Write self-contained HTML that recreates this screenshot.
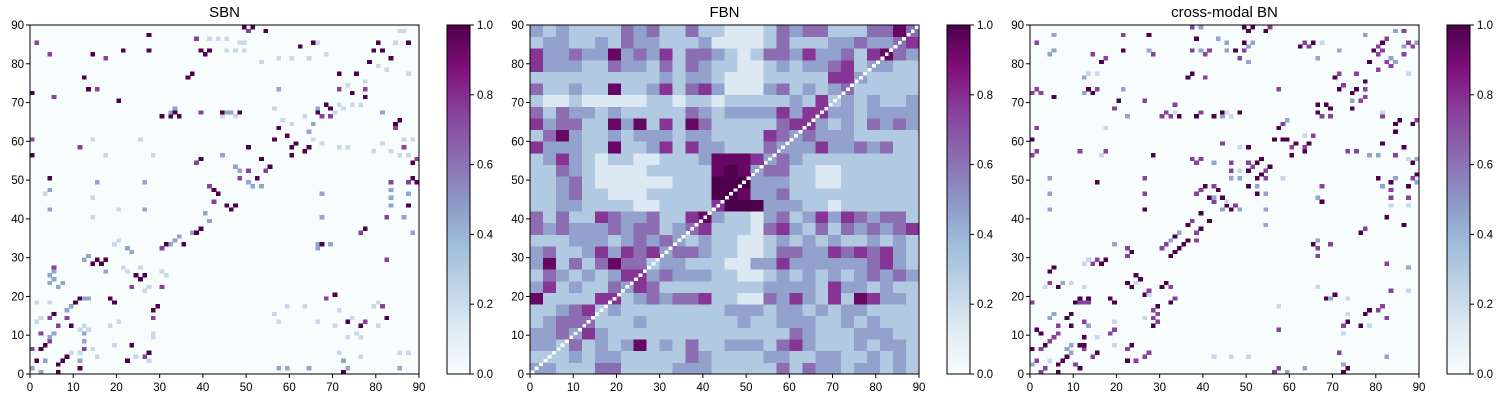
<!DOCTYPE html>
<html><head><meta charset="utf-8"><style>
html,body{margin:0;padding:0;background:#fff;}
svg{display:block;font-family:"Liberation Sans",Arial,sans-serif;}
</style></head><body>
<svg id="chart" width="1500" height="400" viewBox="0 0 1500 400" xmlns="http://www.w3.org/2000/svg">
<defs><linearGradient id="bupu" x1="0" y1="1" x2="0" y2="0">
<stop offset="0" stop-color="#f7fcfd"/><stop offset="0.125" stop-color="#e0ecf4"/><stop offset="0.25" stop-color="#bfd3e6"/><stop offset="0.375" stop-color="#9ebcda"/><stop offset="0.5" stop-color="#8c96c6"/><stop offset="0.625" stop-color="#8c6bb1"/><stop offset="0.75" stop-color="#88419d"/><stop offset="0.875" stop-color="#810f7c"/><stop offset="1" stop-color="#4d004b"/></linearGradient></defs>
</svg>
<script>
const panelTitles = ["SBN", "FBN", "cross-modal BN"];
const axisTicks = [0,10,20,30,40,50,60,70,80,90];
const cbarTicks = [0.0,0.2,0.4,0.6,0.8,1.0];
// sparse entries "col,row,level" (level: d=1.0, p=0.75, b=0.45, l=0.22)
const sbnCells = "49,89,d 51,89,d 54,88,d 27,87,d 87,85,d 62,84,d 65,85,d 21,83,d 27,83,d 14,82,d 39,83,d 41,83,d 40,82,d 80,85,d 79,83,d 81,83,d 78,80,d 83,81,d 12,76,d 37,77,d 36,76,d 71,77,d 75,77,d 13,73,d 74,72,d 77,71,d 0,72,d 20,70,d 68,69,d 69,68,d 30,66,d 33,67,d 32,66,d 34,66,d 44,67,d 48,67,d 66,67,d 85,65,d 84,64,d 57,63,d 59,61,d 56,60,d 60,58,d 63,57,d 64,58,d 60,56,d 61,59,d 50,58,d 0,56,d 39,55,d 38,54,p 53,55,d 55,53,d 52,50,d 88,54,d 89,55,p 89,49,d 88,50,d 4,50,d 43,46,d 42,47,d 45,43,d 47,43,d 46,42,d 87,43,d 39,37,d 38,36,d 35,33,d 31,33,d 77,37,d 67,33,d 15,29,d 16,28,d 14,28,d 17,29,d 24,25,d 26,25,d 25,24,d 11,19,d 10,18,d 18,19,d 19,18,d 70,20,d 68,19,p 29,17,d 28,16,d 5,15,d 4,14,p 82,14,d 73,13,d 76,12,d 9,12,d 6,12,p 23,7,d 27,5,d 3,7,d 2,6,d 8,4,d 7,3,d 1,3,d 6,2,d 22,3,d 11,1,d 6,0,d 72,0,d 1,85,p 38,86,p 50,88,p 4,82,p 17,81,p 77,73,p 71,73,p 15,73,p 5,71,p 39,67,p 67,66,p 69,66,p 0,60,p 11,58,p 86,58,p 84,63,p 50,52,p 54,52,p 48,50,p 83,49,p 87,49,p 41,48,p 42,44,p 82,40,p 76,36,p 30,32,p 82,29,p 5,27,p 6,22,p 30,22,p 23,22,p 8,14,p 28,14,p 77,13,p 81,17,p 2,10,p 12,6,p 26,4,p 73,1,p 0,6,p 4,8,p 4,47,b 4,42,b 15,49,b 26,49,b 26,42,b 33,68,b 32,67,b 45,67,b 46,67,b 57,73,b 66,68,b 81,67,b 65,64,b 64,62,b 40,41,b 41,39,b 37,36,b 34,35,b 33,34,b 32,33,b 66,33,b 66,32,b 69,33,b 13,30,b 12,29,b 17,26,b 22,32,b 23,31,b 5,26,b 4,25,b 5,24,b 4,23,b 6,22,b 7,23,b 12,19,b 13,19,b 8,16,b 9,17,b 5,10,b 4,9,b 12,8,b 12,10,b 3,3,b 11,3,b 0,1,b 2,0,b 57,1,b 59,1,b 64,1,b 85,1,b 72,3,b 73,1,b 44,56,b 47,53,b 48,52,b 50,49,b 53,48,b 51,48,b 67,46,b 67,40,b 83,47,b 83,45,b 83,43,b 87,46,b 86,40,b 88,36,b 41,86,l 43,86,l 45,86,l 48,85,l 49,85,l 45,83,l 47,83,l 49,83,l 53,80,l 57,81,l 60,81,l 64,81,l 66,85,l 68,82,l 80,79,l 82,78,l 84,85,l 85,88,l 86,88,l 87,77,l 77,75,l 73,74,l 74,69,l 76,69,l 70,67,l 71,69,l 72,68,l 44,66,l 47,66,l 56,68,l 58,65,l 60,64,l 63,66,l 65,60,l 67,59,l 71,58,l 73,58,l 79,57,l 81,59,l 83,57,l 85,56,l 87,56,l 86,60,l 88,60,l 17,56,l 28,56,l 25,60,l 14,60,l 3,46,l 14,45,l 20,42,l 14,40,l 19,33,l 20,34,l 21,27,l 22,26,l 26,21,l 27,22,l 30,26,l 31,25,l 25,27,l 20,13,l 18,12,l 11,11,l 11,5,l 14,6,l 15,4,l 19,7,l 24,4,l 27,3,l 28,9,l 28,10,l 4,18,l 1,18,l 2,14,l 1,13,l 9,5,l 12,12,l 13,11,l 56,15,l 57,13,l 59,17,l 63,17,l 66,13,l 70,12,l 71,16,l 74,14,l 76,9,l 79,17,l 80,18,l 80,12,l 75,10,l 73,9,l 71,5,l 76,4,l 85,5,l 87,5,l";
const crossCells = "37,89,p 39,89,b 49,89,d 51,89,d 55,89,p 50,88,d 54,88,d 84,88,b 86,88,p 5,87,b 21,87,p 27,87,d 77,87,b 38,86,d 43,86,b 82,86,p 1,85,p 45,85,b 49,85,d 51,85,b 63,85,p 65,85,d 67,85,l 81,85,d 87,85,p 89,85,b 50,84,b 62,84,d 64,84,p 80,84,p 86,84,b 88,84,p 5,83,b 21,83,d 27,83,b 37,83,p 39,83,b 41,83,p 45,83,b 47,83,d 49,83,p 71,83,b 79,83,d 81,83,p 4,82,b 14,82,p 28,82,p 40,82,p 80,82,p 86,82,p 17,81,p 48,81,p 66,81,b 83,81,b 16,80,d 50,80,b 78,80,d 82,80,p 84,80,b 83,79,p 80,78,p 13,77,l 15,77,l 37,77,d 71,77,p 75,77,p 87,77,l 12,76,b 36,76,d 40,76,p 70,76,d 77,75,d 72,74,p 1,73,p 13,73,d 15,73,p 21,73,b 57,73,p 71,73,d 75,73,d 77,73,p 0,72,p 2,72,p 12,72,b 14,72,d 74,72,d 5,71,d 77,71,p 20,70,d 26,70,p 74,70,b 76,70,p 33,69,p 66,69,d 68,69,d 19,68,p 69,68,d 74,68,d 31,67,p 33,67,l 39,67,p 44,67,d 45,67,l 48,67,d 66,67,d 81,67,l 22,66,b 30,66,p 32,66,p 34,66,d 38,66,d 42,66,d 44,66,b 46,66,l 67,66,p 69,66,p 81,66,p 59,65,b 85,65,d 89,65,p 58,64,p 84,64,d 88,64,d 1,63,p 17,63,l 57,63,d 84,62,d 63,61,l 65,61,p 0,60,d 56,60,d 58,60,d 59,60,d 44,59,p 61,59,d 64,59,d 81,59,d 48,58,l 50,58,d 60,58,p 63,58,p 86,58,d 1,57,p 11,57,p 17,57,p 63,57,d 73,57,p 75,57,p 0,56,p 16,56,l 28,56,d 60,56,d 78,56,b 80,56,b 84,56,p 37,55,p 39,55,p 53,55,d 87,55,l 89,55,b 38,54,p 42,54,b 46,54,p 50,54,p 52,54,d 88,54,d 51,53,p 55,53,d 46,52,p 48,52,l 50,52,d 54,52,p 53,51,d 89,51,d 4,50,b 26,50,p 46,50,b 48,50,b 52,50,d 54,50,p 58,50,l 80,50,d 84,50,b 88,50,p 15,49,d 83,49,d 89,49,b 40,48,d 42,48,p 50,48,d 52,48,b 67,48,p 81,48,b 87,48,d 39,47,p 43,47,d 83,47,p 4,46,b 26,46,p 38,46,p 52,46,d 54,46,b 41,45,d 42,45,b 44,45,d 66,45,b 83,45,p 87,45,p 42,44,p 45,44,l 67,44,d 45,43,d 47,43,p 83,43,l 87,43,l 4,42,b 26,42,d 44,42,b 46,42,d 48,42,b 54,42,b 39,41,d 82,40,d 37,39,p 41,39,d 36,38,d 54,38,b 86,38,d 39,37,d 77,37,p 34,36,b 38,36,p 76,36,d 33,35,d 32,34,b 36,34,d 38,34,p 66,34,b 19,33,b 31,33,p 35,33,d 65,33,d 69,33,p 22,32,p 30,32,p 34,32,d 66,32,p 23,31,d 33,31,d 22,30,p 32,30,d 66,30,p 13,29,l 15,29,p 17,29,d 12,28,l 14,28,p 16,28,d 82,28,p 5,27,d 87,27,b 4,26,d 24,25,d 25,24,d 4,23,p 7,23,b 9,23,l 22,23,d 24,23,l 31,23,d 3,22,l 6,22,d 12,22,l 23,22,d 30,22,d 32,22,p 66,22,l 27,21,p 83,21,p 87,21,l 26,20,d 27,20,l 70,20,d 11,19,d 13,19,d 18,19,d 33,19,p 68,19,d 69,19,b 73,19,l 0,18,p 10,18,d 11,18,p 12,18,p 13,18,p 19,18,d 32,18,d 29,17,d 57,17,l 81,17,p 28,16,p 78,16,d 80,16,p 5,15,b 9,15,d 29,15,p 73,15,l 77,15,d 4,14,b 8,14,d 26,14,l 28,14,p 82,14,p 12,13,p 19,13,l 29,13,p 73,13,d 6,12,p 9,12,d 13,12,b 28,12,d 72,12,p 76,12,d 78,12,l 1,11,d 19,11,p 57,11,p 2,10,d 6,10,p 18,10,p 72,10,l 5,9,p 12,9,d 15,9,l 4,8,p 3,7,d 9,7,b 11,7,d 12,7,d 19,7,l 23,7,d 0,6,d 2,6,p 8,6,b 12,6,p 22,6,p 9,5,b 15,5,d 27,5,p 71,5,p 8,4,d 14,4,p 26,4,p 42,4,l 46,4,l 50,4,l 82,4,b 1,3,p 4,3,l 7,3,d 22,3,d 24,3,p 0,2,b 6,2,d 10,2,p 72,2,b 3,1,p 11,1,d 57,1,p 63,1,b 73,1,d 2,0,p 6,0,d 56,0,p 59,0,b 72,0,d";
// FBN: block means (tenths), 30 block-rows from top (rows 87-89) to bottom (rows 0-2), 30 block-cols; each block = 3x3 nodes
const fbnBlocks = [
"434333354533533222354553335575",
"344334354433342222353334454456",
"644544745463554323554644536754",
"644433544353543322343445634433",
"333333333343443222333336643333",
"533433733463564222453434533333",
"322322222332332333334363434334",
"535443433333543444464664434444",
"645533747363753333356643435454",
"357433434443443333654544433333",
"644433733463644333544464454533",
"346432332233347776454333333333",
"335432222333337874553322333333",
"334532222223338884443322333333",
"334533222333338874453333333333",
"334433332233336888444332333333",
"535336544533674332453464654553",
"545444545534563332564353545456",
"333444345454343322343434334343",
"453346465645543322355446565643",
"473535755344333224464444445643",
"354343466454443322343434345454",
"463433546533333333444436443433",
"733336634545563322546436376443",
"334563433333333444344343443333",
"345553334333333343344433434333",
"445464333333333333335433344433",
"443534347343533444356433343443",
"333434433333543333443344334343",
"443335533334443333353544344343"];

const stops = [[0,"#f7fcfd"],[0.125,"#e0ecf4"],[0.25,"#bfd3e6"],[0.375,"#9ebcda"],[0.5,"#8c96c6"],[0.625,"#8c6bb1"],[0.75,"#88419d"],[0.875,"#810f7c"],[1,"#4d004b"]];
function hex(h){return [1,3,5].map(i=>parseInt(h.substr(i,2),16));}
function cmap(v){v=Math.max(0,Math.min(1,v));
  for(let i=1;i<stops.length;i++){if(v<=stops[i][0]){const a=hex(stops[i-1][1]),b=hex(stops[i][1]);const t=(v-stops[i-1][0])/(stops[i][0]-stops[i-1][0]);
    return "rgb("+a.map((x,k)=>Math.round(x+(b[k]-x)*t)).join(",")+")";}}return stops[8][1];}
const LV={d:1.0,p:0.75,b:0.45,l:0.22};
const NS="http://www.w3.org/2000/svg";
const svg=document.getElementById("chart");
function mk(tag,attrs,parent){const e=document.createElementNS(NS,tag);for(const k in attrs)e.setAttribute(k,attrs[k]);(parent||svg).appendChild(e);return e;}
const PX0=30,PW=389,PY0=25,PH=349,N=90;
function xs(off,c){return off+PX0+c*PW/N;}
function ys(r){return PY0+PH-r*PH/N;}
// block means under-represent speckle contrast; stretch for display
function stretch(v){return Math.max(0,Math.min(1,(v-0.3)*1.6+0.3));}

function parseCells(s){return s.trim().split(/\s+/).map(t=>{const p=t.split(",");return [+p[0],+p[1],LV[p[2]]];});}
function buildMatrix(i){
  const M=[];for(let r=0;r<N;r++){M.push(new Array(N).fill(0));}
  if(i===1){for(let r=0;r<N;r++)for(let c=0;c<N;c++){const br=29-Math.floor(r/3),bc=Math.floor(c/3);M[r][c]=r===c?0:stretch((+fbnBlocks[br][bc])/10);}}
  else{const cells=parseCells(i===0?sbnCells:crossCells);cells.forEach(([c,r,v])=>{M[r][c]=v;});}
  return M;}

panelTitles.forEach((title,i)=>{
  const off=i*500;
  const g=mk("g",{});
  
  
  const hm=mk("g",{"shape-rendering":"crispEdges"},g);
  
  
  const bg=mk("rect",{x:xs(off,0),y:PY0,width:PW,height:PH,fill:cmap(0)},hm);
  
  
  const M=buildMatrix(i);
  for(let r=0;r<N;r++)for(let c=0;c<N;c++){const v=M[r][c];if(v<=0.02)continue;
    const x0=xs(off,c),x1=xs(off,c+1),y0=ys(r+1),y1=ys(r);
    const cell=mk("rect",{x:x0.toFixed(2),y:y0.toFixed(2),width:(x1-x0+0.4).toFixed(2),height:(y1-y0+0.4).toFixed(2),fill:cmap(v)},hm);
    
    }
  const fr=mk("rect",{x:xs(off,0),y:PY0,width:PW,height:PH,fill:"none",stroke:"#000","stroke-width":1},g);
  
  
  const t=mk("text",{x:xs(off,45),y:17,"text-anchor":"middle","font-size":15,fill:"#000"},g);t.textContent=title;
  
  
  axisTicks.forEach(v=>{
    const x=xs(off,v);mk("line",{x1:x,x2:x,y1:PY0+PH,y2:PY0+PH+4,stroke:"#000"},g);
    const tl=mk("text",{x:x,y:PY0+PH+17,"text-anchor":"middle","font-size":11.5},g);tl.textContent=v;
    
    
    const y=ys(v);mk("line",{x1:xs(off,0)-4,x2:xs(off,0),y1:y,y2:y,stroke:"#000"},g);
    const yl=mk("text",{x:xs(off,0)-6,y:y+4,"text-anchor":"end","font-size":11.5},g);yl.textContent=v;
    
    });
  const cx=off+447,cw=23;
  const cb=mk("rect",{x:cx,y:PY0,width:cw,height:PH,fill:"url(#bupu)",stroke:"#000","stroke-width":1},g);
  
  
  cbarTicks.forEach(v=>{const y=PY0+PH-v*PH;
    mk("line",{x1:cx+cw,x2:cx+cw+4,y1:y,y2:y,stroke:"#000"},g);
    const cl=mk("text",{x:cx+cw+7,y:y+4,"font-size":11.5},g);cl.textContent=v.toFixed(1);
    
    });
});
</script>
</body></html>
